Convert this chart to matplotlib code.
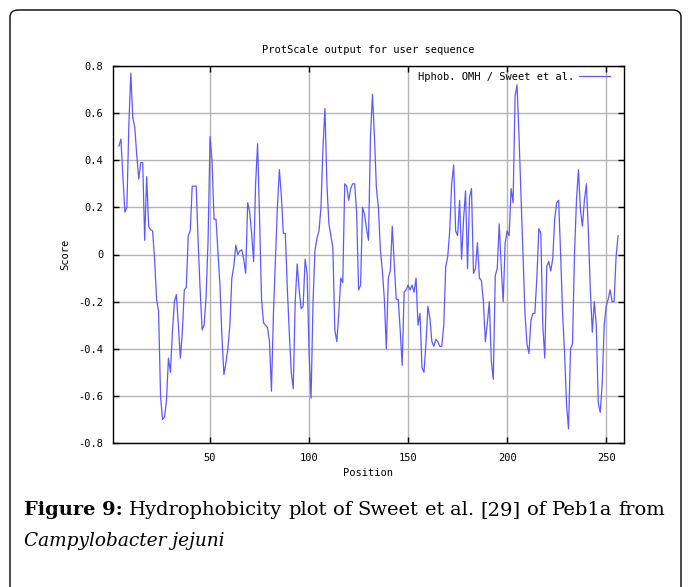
import matplotlib
matplotlib.use('Agg')
import matplotlib.pyplot as plt
from matplotlib.patches import FancyBboxPatch

# hydrophobicity scores, window centres 4..256
positions = list(range(4, 257))
scores = [
    0.46, 0.49, 0.33, 0.18, 0.20, 0.55, 0.77, 0.58, 0.54, 0.42,   # 4-13
    0.32, 0.39, 0.39, 0.06, 0.33, 0.12, 0.105, 0.10, -0.02, -0.19,  # 14-23
    -0.24, -0.60, -0.70, -0.69, -0.62, -0.44, -0.50, -0.33, -0.20, -0.17,  # 24-33
    -0.30, -0.44, -0.33, -0.15, -0.14, 0.08, 0.10, 0.29, 0.29, 0.29,  # 34-43
    0.05, -0.15, -0.32, -0.30, -0.18, 0.06, 0.50, 0.40, 0.15, 0.15,  # 44-53
    0.01, -0.13, -0.35, -0.51, -0.46, -0.40, -0.30, -0.10, -0.05, 0.04,  # 54-63
    0.00, 0.015, 0.02, -0.02, -0.08, 0.22, 0.18, 0.09, -0.03, 0.30,  # 64-73
    0.47, 0.15, -0.19, -0.29, -0.30, -0.31, -0.37, -0.58, -0.25, -0.02,  # 74-83
    0.20, 0.36, 0.25, 0.09, 0.09, -0.14, -0.33, -0.50, -0.57, -0.20,  # 84-93
    -0.04, -0.15, -0.23, -0.22, -0.02, -0.08, -0.42, -0.61, -0.20, 0.02,  # 94-103
    0.07, 0.10, 0.20, 0.45, 0.62, 0.30, 0.13, 0.08, 0.03, -0.32,  # 104-113
    -0.37, -0.25, -0.10, -0.12, 0.30, 0.29, 0.23, 0.28, 0.30, 0.30,  # 114-123
    0.18, -0.15, -0.13, 0.20, 0.17, 0.11, 0.06, 0.50, 0.68, 0.50,  # 124-133
    0.28, 0.20, 0.02, -0.07, -0.19, -0.40, -0.10, -0.07, 0.12, -0.04,  # 134-143
    -0.19, -0.19, -0.32, -0.47, -0.16, -0.15, -0.13, -0.15, -0.13, -0.16,  # 144-153
    -0.10, -0.30, -0.25, -0.48, -0.50, -0.38, -0.22, -0.27, -0.37, -0.39,  # 154-163
    -0.36, -0.37, -0.39, -0.39, -0.30, -0.05, -0.01, 0.10, 0.30, 0.38,  # 164-173
    0.10, 0.08, 0.23, -0.02, 0.15, 0.27, -0.06, 0.24, 0.28, -0.08,  # 174-183
    -0.06, 0.05, -0.10, -0.11, -0.20, -0.37, -0.29, -0.20, -0.45, -0.53,  # 184-193
    -0.09, -0.06, 0.13, -0.05, -0.20, 0.05, 0.10, 0.08, 0.28, 0.22,  # 194-203
    0.67, 0.72, 0.50, 0.25, -0.01, -0.25, -0.38, -0.42, -0.28, -0.25,  # 204-213
    -0.25, -0.10, 0.11, 0.09, -0.30, -0.44, -0.05, -0.03, -0.07, -0.02,  # 214-223
    0.15, 0.22, 0.23, 0.00, -0.25, -0.42, -0.64, -0.74, -0.40, -0.38,  # 224-233
    0.00, 0.23, 0.36, 0.19, 0.12, 0.23, 0.30, 0.10, -0.15, -0.33,  # 234-243
    -0.20, -0.30, -0.63, -0.67, -0.55, -0.30, -0.22, -0.19, -0.15, -0.20,  # 244-253
    -0.20, -0.01, 0.08,  # 254-256
]

xticks = [50, 100, 150, 200, 250]
yticks = [-0.8, -0.6, -0.4, -0.2, 0, 0.2, 0.4, 0.6, 0.8]
ytick_labels = ['-0.8', '-0.6', '-0.4', '-0.2', '0', '0.2', '0.4', '0.6', '0.8']
caption_words = ['Hydrophobicity', 'plot', 'of', 'Sweet', 'et', 'al.', '[29]',
                 'of', 'Peb1a', 'from']

W, H = 690, 587
mono = 'DejaVu Sans Mono'
fs = 7.5
fig = plt.figure(figsize=(W / 100, H / 100), dpi=100)

# rounded frame around the figure panel (open at the bottom)
frame = FancyBboxPatch((10 / W, -0.05), 671 / W, 1.05 - 10 / H,
                       boxstyle='round,pad=0,rounding_size=0.012',
                       transform=fig.transFigure, fill=False,
                       edgecolor='black', linewidth=1.0)
fig.patches.append(frame)

ax = fig.add_axes([113 / W, 1 - 443 / H, 511 / W, 377 / H])
ax.plot(positions, scores, color='#5a5aff', linewidth=0.9,
        label='Hphob. OMH / Sweet et al.')

ax.set_xlim(1, 259)
ax.set_ylim(-0.8, 0.8)
ax.set_xticks(xticks)
ax.set_yticks(yticks)
ax.set_yticklabels(ytick_labels)
ax.grid(True, color='#b4b4b4', linewidth=1.0)
ax.set_axisbelow(True)
ax.tick_params(direction='in', length=4, width=1, top=True, right=True,
               labelsize=fs, pad=7)
for lab in ax.get_xticklabels() + ax.get_yticklabels():
    lab.set_family(mono)
for s in ax.spines.values():
    s.set_linewidth(1.0)

ax.set_xlabel('Position', family=mono, fontsize=fs)
ax.set_ylabel('Score', family=mono, fontsize=fs)
ax.xaxis.set_label_coords(0.5, -0.066)
ax.yaxis.set_label_coords(-0.084, 0.5)
ax.text(0.5, 1 + 16 / 377, 'ProtScale output for user sequence',
        transform=ax.transAxes, ha='center', va='center',
        family=mono, fontsize=fs)

ax.legend(loc='upper right', bbox_to_anchor=(1 - 6 / 511, 1 + 2 / 377),
          frameon=False, markerfirst=False,
          prop={'family': mono, 'size': fs}, handlelength=3.0,
          handletextpad=0.45, borderaxespad=0.35)

# caption: first line justified from x=24 to x=665 px
serif = 'DejaVu Serif'
renderer = fig.canvas.get_renderer()
y1 = 1 - 510 / H
texts = [fig.text(0, y1, 'Figure 9:', family=serif, fontweight='bold',
                  fontsize=15, va='center', ha='left')]
texts += [fig.text(0, y1, w, family=serif, fontsize=15, va='center',
                   ha='left') for w in caption_words]
widths = [t.get_window_extent(renderer).width for t in texts]
x_start, x_end = 24, 665
scale = (x_end - x_start - 6 * (len(texts) - 1)) / sum(widths)
cap_fs = min(15 * scale, 16)
for t in texts:
    t.set_fontsize(cap_fs)
widths = [t.get_window_extent(renderer).width for t in texts]
gap = (x_end - x_start - sum(widths)) / (len(texts) - 1)
x = x_start
for t, w in zip(texts, widths):
    t.set_x(x / W)
    x += w + gap
fig.text(24 / W, 1 - 541 / H, 'Campylobacter jejuni', family=serif,
         style='italic', fontsize=cap_fs * 0.95, va='center', ha='left')

fig.savefig('out.png', dpi=100)
